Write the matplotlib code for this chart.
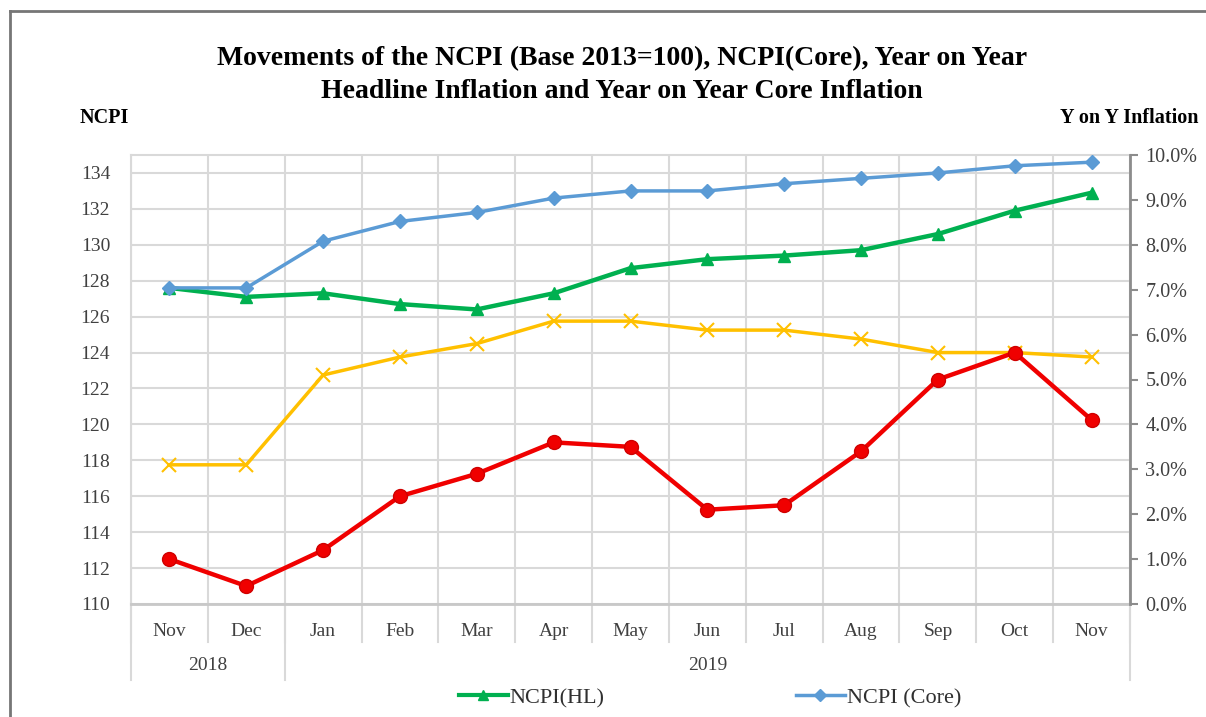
import matplotlib
matplotlib.use("Agg")
from matplotlib import pyplot as plt
from matplotlib.lines import Line2D
import matplotlib.transforms as mtransforms
from matplotlib.ticker import PercentFormatter

plt.rcParams['font.family'] = ['Liberation Serif', 'DejaVu Serif']

months = ["Nov", "Dec", "Jan", "Feb", "Mar", "Apr", "May", "Jun", "Jul", "Aug", "Sep", "Oct", "Nov"]
years = ["2018", "2019"]
year_spans = [(0, 1), (2, 12)]

ncpi_hl = [127.6, 127.1, 127.3, 126.7, 126.4, 127.3, 128.7, 129.2, 129.4, 129.7, 130.6, 131.9, 132.9]
ncpi_core = [127.6, 127.6, 130.2, 131.3, 131.8, 132.6, 133.0, 133.0, 133.4, 133.7, 134.0, 134.4, 134.6]
yoy_headline = [1.0, 0.4, 1.2, 2.4, 2.9, 3.6, 3.5, 2.1, 2.2, 3.4, 5.0, 5.6, 4.1]
yoy_core = [3.1, 3.1, 5.1, 5.5, 5.8, 6.3, 6.3, 6.1, 6.1, 5.9, 5.6, 5.6, 5.5]

GREEN = "#00B050"
BLUE = "#5B9BD5"
RED = "#F00000"
YELLOW = "#FFC000"
GRID = "#D9D9D9"
TXT = "#404040"

W, H = 1206, 717
fig = plt.figure(figsize=(W / 100, H / 100), dpi=100)

# outer frame
fig.add_artist(plt.Line2D([10 / W, 10 / W], [0, 1 - 11 / H], color="#767676", lw=2))
fig.add_artist(plt.Line2D([10 / W, 1], [1 - 11 / H, 1 - 11 / H], color="#767676", lw=2))

left, right, top, bottom = 131, 1130, 155, 604
ax = fig.add_axes([left / W, 1 - bottom / H, (right - left) / W, (bottom - top) / H])
x = list(range(len(months)))

ax.set_xlim(-0.5, len(months) - 0.5)
ax.set_ylim(110, 135)
ax.set_yticks(range(110, 135, 2))
ax.grid(axis="y", color=GRID, lw=1.5)
for b in range(len(months) + 1):
    ax.axvline(b - 0.5, color=GRID, lw=1.5, zorder=0)
for s in ax.spines.values():
    s.set_color(GRID)
    s.set_linewidth(1.5)
ax.spines["bottom"].set_color("#C8C8C8")
ax.spines["bottom"].set_linewidth(2)
ax.tick_params(axis="y", length=0, pad=15, labelsize=14, labelcolor=TXT)
ax.set_xticks(x)
ax.set_xticklabels(months)
ax.tick_params(axis="x", length=0, pad=14, labelsize=14, labelcolor=TXT)

# category separators below the axis
trans = mtransforms.blended_transform_factory(ax.transData, ax.transAxes)
for b in range(len(months) + 1):
    ax.plot([b - 0.5, b - 0.5], [0, -0.085], color=GRID, lw=1.5, transform=trans, clip_on=False)
for i, (a, e) in enumerate(year_spans):
    ax.plot([a - 0.5, a - 0.5], [0, -0.17], color=GRID, lw=1.5, transform=trans, clip_on=False)
    ax.text((a + e) / 2, -0.137, years[i], transform=trans, ha="center", va="center",
            fontsize=14, color=TXT)
ax.plot([len(months) - 0.5] * 2, [0, -0.17], color=GRID, lw=1.5, transform=trans, clip_on=False)

ax2 = ax.twinx()
ax2.set_ylim(0, 10)
ax2.set_yticks(range(0, 11))
ax2.yaxis.set_major_formatter(PercentFormatter(decimals=1))
for k, s in ax2.spines.items():
    s.set_visible(k == "right")
ax2.spines["right"].set_color("#8C8C8C")
ax2.spines["right"].set_linewidth(2)
ax2.tick_params(axis="y", direction="out", length=6, width=1.5, color="#8C8C8C",
                pad=5, labelsize=14.5, labelcolor=TXT)

ax2.plot(x, yoy_core, color=YELLOW, lw=2.5, marker="x", ms=10, mew=1.5, zorder=3)
ax2.plot(x, yoy_headline, color=RED, lw=3.2, marker="o", ms=10, mec="#D00000", zorder=3)
ax2.plot(x, ncpi_hl, color=GREEN, lw=3.2, marker="^", ms=9,
         transform=ax.transData, zorder=4)
ax2.plot(x, ncpi_core, color=BLUE, lw=2.5, marker="D", ms=7,
         transform=ax.transData, zorder=4)

fig.text(622 / W, 1 - 59 / H, "Movements of the NCPI (Base 2013=100), NCPI(Core), Year on Year",
         ha="center", va="center", fontsize=20, fontweight="bold")
fig.text(622 / W, 1 - 91 / H, "Headline Inflation and Year on Year Core Inflation",
         ha="center", va="center", fontsize=20, fontweight="bold")
fig.text(80 / W, 1 - 118 / H, "NCPI", ha="left", va="center", fontsize=14.5, fontweight="bold")
fig.text(1199 / W, 1 - 118 / H, "Y on Y Inflation", ha="right", va="center",
         fontsize=14.5, fontweight="bold")

handles = [Line2D([], [], color=GREEN, lw=3, marker="^", ms=7),
           Line2D([], [], color=BLUE, lw=2.5, marker="D", ms=6)]
fig.legend(handles, ["NCPI(HL)", "NCPI (Core)"], loc="center", bbox_to_anchor=(710 / W, 1 - 698 / H),
           ncol=2, frameon=False, fontsize=16, handlelength=2.2, handletextpad=0.1,
           columnspacing=8.6, labelcolor="#303030")

fig.savefig("out.png", dpi=100)
